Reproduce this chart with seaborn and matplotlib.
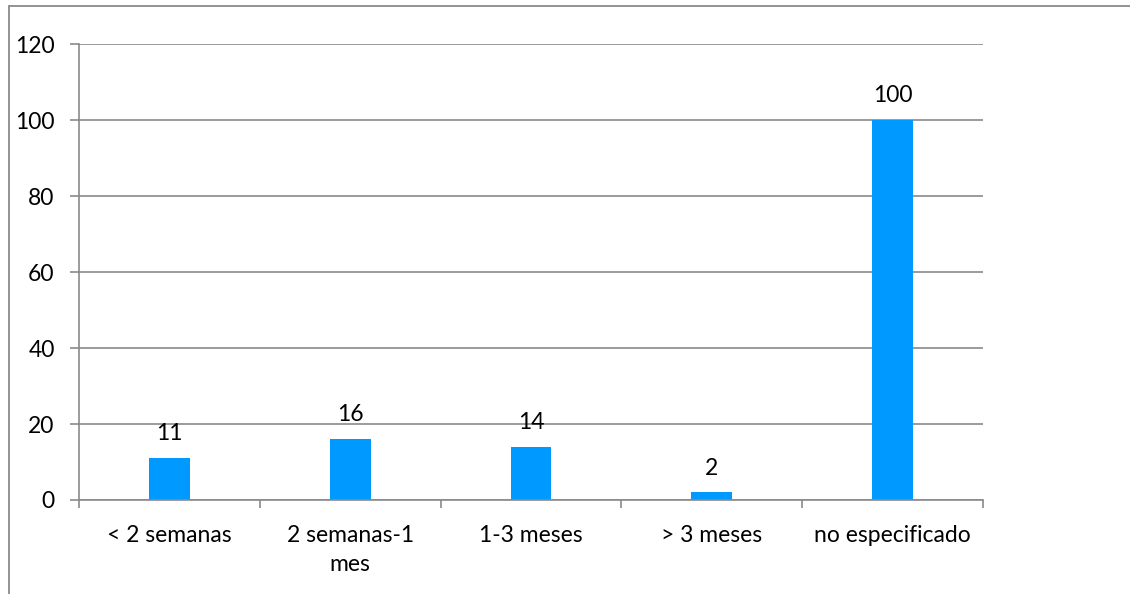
import numpy as np
import pandas as pd
import matplotlib
matplotlib.use('Agg')
import matplotlib.pyplot as plt
import seaborn as sns
from matplotlib.lines import Line2D

categorias = ['< 2 semanas', '2 semanas-1\nmes', '1-3 meses', '> 3 meses', 'no especificado']
valores = [11, 16, 14, 2, 100]
yticks = [0, 20, 40, 60, 80, 100, 120]

sns.set_style('white')
plt.rcParams['font.family'] = ['Lato', 'DejaVu Sans']
plt.rcParams['text.color'] = 'black'
plt.rcParams['xtick.color'] = 'black'
plt.rcParams['ytick.color'] = 'black'

gris = '#8a8a8a'
azul = '#0099ff'
fs = 16.5

df = pd.DataFrame({'cat': categorias, 'val': valores})

fig = plt.figure(figsize=(11.3, 5.94), dpi=100)
ax = fig.add_axes([79 / 1130, 1 - 500 / 594, (983 - 79) / 1130, (500 - 44) / 594])

sns.barplot(data=df, x='cat', y='val', color=azul, width=0.226, ax=ax,
            saturation=1, linewidth=0)

ax.set_xlim(-0.5, len(categorias) - 0.5)
ax.set_ylim(0, 120)
ax.set_yticks(yticks)
ax.set_xlabel('')
ax.set_ylabel('')

ax.yaxis.grid(True, color=gris, linewidth=1.2)
ax.set_axisbelow(True)
for s in ['top', 'right']:
    ax.spines[s].set_visible(False)
for s in ['left', 'bottom']:
    ax.spines[s].set_color(gris)
    ax.spines[s].set_linewidth(1.2)

ax.tick_params(axis='y', length=6.5, width=1.2, color=gris, pad=11, labelsize=fs, left=True)
ax.tick_params(axis='x', which='major', length=0, pad=18, labelsize=fs)
for lbl in ax.get_xticklabels():
    lbl.set_linespacing(1.45)
ax.set_xticks(np.arange(-0.5, len(categorias)), minor=True)
ax.tick_params(axis='x', which='minor', length=6, width=1.2, color=gris, bottom=True)

for i, v in enumerate(valores):
    ax.annotate(str(v), (i, v), xytext=(0, 10), textcoords='offset points',
                ha='center', va='bottom', fontsize=fs)

# borde exterior (izquierda y arriba)
fig.add_artist(Line2D([9 / 1130, 9 / 1130], [0, 1 - 6 / 594], transform=fig.transFigure,
                      color=gris, linewidth=1.3))
fig.add_artist(Line2D([9 / 1130, 1], [1 - 6 / 594, 1 - 6 / 594], transform=fig.transFigure,
                      color=gris, linewidth=1.3))

fig.savefig('out.png', dpi=100)
